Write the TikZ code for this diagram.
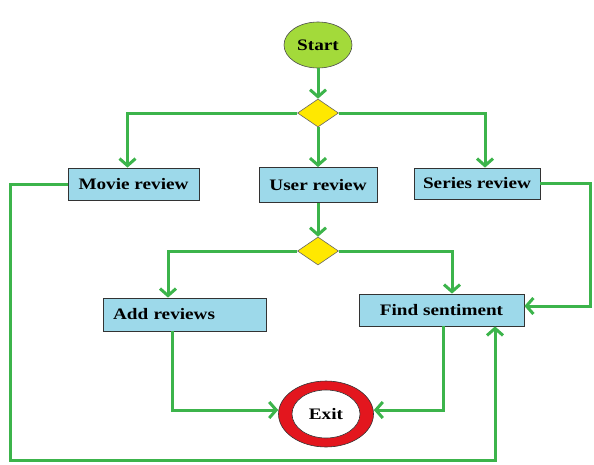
\documentclass[tikz,border=0pt]{standalone}
\usepackage{fontspec}
\newfontfamily\lbl[FakeStretch=1.2]{Liberation Serif}
\usetikzlibrary{arrows.meta,shapes.geometric}
\definecolor{lgreen}{HTML}{3CB44B}
\definecolor{boxblue}{HTML}{9DD9EA}
\definecolor{decyellow}{HTML}{FFE800}
\definecolor{startgreen}{HTML}{A3DA3A}
\definecolor{exitred}{HTML}{E3161E}
\begin{document}
\begin{tikzpicture}[x=1pt,y=-1pt,
  flow/.style={draw=lgreen, line width=3pt, -{Straight Barb[length=7pt,width=16pt]}},
  txt/.style={font=\lbl\bfseries\fontsize{16}{18}\selectfont},
  box/.style={txt, draw=black!80, fill=boxblue, line width=0.8pt, inner sep=0pt},
  dec/.style={diamond, draw=black!60, fill=decyellow, minimum width=41pt, minimum height=28pt, inner sep=0pt, line width=0.6pt},
  startnode/.style={txt, ellipse, draw=black!70, fill=startgreen, minimum width=68pt, minimum height=46pt, inner sep=0pt, line width=0.6pt},
  exitring/.style={ellipse, draw=black!80, fill=exitred, minimum width=95pt, minimum height=66pt, inner sep=0pt, line width=0.6pt},
  exitin/.style={txt, ellipse, draw=black!80, fill=white, minimum width=68pt, minimum height=48pt, inner sep=0pt, line width=0.6pt}]
\useasboundingbox (0,0) rectangle (594,464);
\node[startnode] (start) at (318,45) {Start};
\node[dec] (d1) at (318,113) {};
\node[box, minimum width=131pt, minimum height=32pt] (movie) at (133.5,184) {Movie review};
\node[box, minimum width=118pt, minimum height=35pt] (user) at (318,185) {User review};
\node[box, minimum width=126pt, minimum height=31pt] (series) at (477,183.5) {Series review};
\node[dec] (d2) at (318,251) {};
\node[box, text width=143pt, align=left, inner xsep=10pt, minimum height=33pt] (add) at (184.5,314.5) {Add reviews};
\node[box, minimum width=165pt, minimum height=32pt] (find) at (441.5,310) {Find sentiment};
\node[exitring] (exit) at (326,414) {};
\node[exitin] (exittxt) at (exit.center) {Exit};
\coordinate (lb) at (10,460);
\coordinate (rb) at (495,460);
\coordinate (sr) at (590,306);
\draw[flow] (start) -- (d1);
\draw[flow] (d1.west) -| ([xshift=-6pt]movie.north);
\draw[flow] (d1.south) -- (user.north);
\draw[flow] (d1.east) -| ([xshift=8pt]series.north);
\draw[flow] (user.south) -- (d2.north);
\draw[flow] (d2.west) -| ([xshift=-16.5pt]add.north);
\draw[flow] (d2.east) -| ([xshift=10.5pt]find.north);
\draw[flow] ([xshift=-12.5pt]add.south) |- ([yshift=4pt]exit.west);
\draw[flow] ([xshift=1.5pt]find.south) |- ([yshift=4pt]exit.east);
\draw[flow] (movie.west) -| (lb) -- (rb) -- (rb |- find.south);
\draw[flow] (series.east) -| (sr) -- (sr -| find.east);
\end{tikzpicture}
\end{document}
